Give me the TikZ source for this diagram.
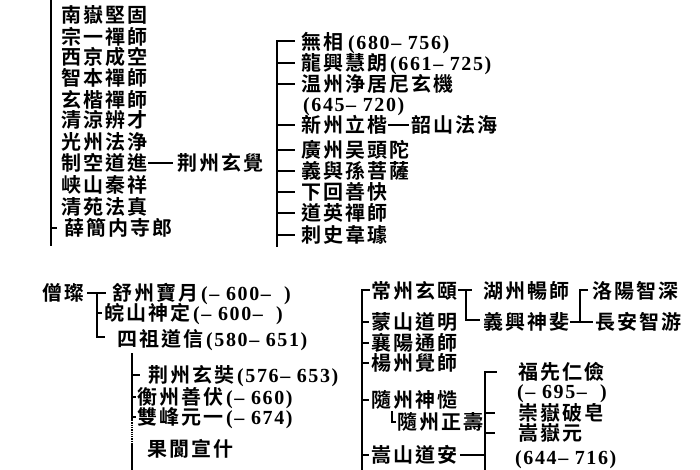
\documentclass[tikz,border=0pt]{standalone}
\usepackage{fontspec}
\newfontfamily\cjk{Noto Sans CJK TC Bold}[LetterSpace=10]
\newfontfamily\yrf{Liberation Serif Bold}[LetterSpace=8]
\newcommand\yrs[1]{\vphantom{漢}\smash{\raisebox{0.5pt}{\yrf\fontsize{20}{20}\selectfont #1}}}
\tikzset{
  tx/.style={anchor=west,inner sep=0pt,font=\cjk\fontsize{20}{20}\selectfont},
  ln/.style={line width=1.3pt,line cap=butt}
}
\begin{document}
\begin{tikzpicture}[x=1pt,y=-1pt]
\useasboundingbox[fill=white] (0,0) rectangle (700,470);
% ---------- top left column ----------
\node[tx] (a1) at (61,15) {南嶽堅固};
\node[tx] (a2) at (61,37) {宗一禪師};
\node[tx] (a3) at (61,57) {西京成空};
\node[tx] (a4) at (61,78) {智本禪師};
\node[tx] (a5) at (61,100) {玄楷禪師};
\node[tx] (a6) at (61,120) {清涼辨才};
\node[tx] (a7) at (61,142) {光州法浄};
\node[tx] (a8) at (61,163) {制空道進};
\node[tx] (a9) at (61,185) {峡山秦祥};
\node[tx] (a10) at (61,207) {清苑法真};
\node[tx] (a11) at (64,228) {薛簡内寺郎};
\node[tx] (b) at (177,163) {荆州玄覺};
\coordinate (LT) at (51,0);
\coordinate (LB) at (51,246);
\draw[ln] (LT) -- (LB);
\draw[ln] (LT |- a11) -- ++(6,0);
\draw[ln] ([xshift=1pt]a8.east) -- ([xshift=-4pt]b.west);
% ---------- top right column ----------
\node[tx] (c1) at (301,42) {無相\hspace{5pt}\yrs{(680–\ 756)}};
\node[tx] (c2) at (301,63) {龍興慧朗\hspace{3pt}\yrs{(661–\ 725)}};
\node[tx] (c3) at (301,84) {温州浄居尼玄機};
\node[tx] (c3b) at (303,104) {\yrs{(645–\ 720)}};
\node[tx] (c4a) at (301,125) {新州立楷};
\node[tx] (c4b) at (411,125) {韶山法海};
\node[tx] (c5) at (301,150) {廣州吴頭陀};
\node[tx] (c6) at (301,171) {義與孫菩薩};
\node[tx] (c7) at (301,192) {下回善快};
\node[tx] (c8) at (301,213) {道英禪師};
\node[tx] (c9) at (301,235) {刺史韋璩};
\coordinate (RT) at (277,41);
\coordinate (RB) at (277,247);
\draw[ln] (RB) -- (RT) -- ++(18,0);
\foreach \n in {c2,c3,c4a,c5,c6,c7,c8,c9}
  \draw[ln] (RT |- \n) -- ++(18,0);
\draw[ln] ([xshift=1pt]c4a.east) -- ([xshift=-2pt]c4b.west);
% ---------- bottom left ----------
\node[tx] (d0) at (42,293) {僧璨};
\node[tx] (d1) at (112,293) {舒州寶月\hspace{3pt}\yrs{(–\ 600–\ \ )}};
\node[tx] (d2) at (104,313) {皖山神定\hspace{3pt}\yrs{(–\ 600–\ \ )}};
\node[tx] (d3) at (117,339) {四祖道信\hspace{3pt}\yrs{(580–\ 651)}};
\coordinate (BT) at (97,293);
\coordinate (BB) at (97,337);
\draw[ln] ([xshift=3pt]d0.east) -- (BT) -- ++(9,0);
\draw[ln] (BT) -- (BB) -- ++(8,0);
\draw[ln] (BT |- d2) -- ++(5,0);
\node[tx] (e1) at (148,375) {荆州玄奘\hspace{3pt}\yrs{(576–\ 653)}};
\node[tx] (e2) at (137,397) {衡州善伏\hspace{3pt}\yrs{(–\ 660)}};
\node[tx] (e3) at (137,417) {雙峰元一\hspace{3pt}\yrs{(–\ 674)}};
\node[tx] (e4) at (147,449) {果閬宣什};
\coordinate (ET) at (132,353);
\coordinate (ED1) at (132,420);
\coordinate (ED2) at (132,443);
\coordinate (EB) at (132,475);
\draw[ln] (ET) -- (ED1);
\draw[ln,densely dotted] (ED1) -- (ED2);
\draw[ln] (ED2) -- (EB);
\draw[ln] (ET |- e1) -- ++(8,0);
\draw[ln] (ET |- e2) -- ++(4,0);
\draw[ln] (ET |- e3) -- ++(4,0);
% ---------- bottom right ----------
\node[tx] (f1) at (371,291) {常州玄頤};
\node[tx] (f2) at (371,322) {蒙山道明};
\node[tx] (f3) at (371,343) {襄陽通師};
\node[tx] (f4) at (371,363) {楊州覺師};
\node[tx] (f5) at (371,400) {隨州神慥};
\node[tx] (f6) at (397,422) {隨州正壽};
\node[tx] (f7) at (371,455) {嵩山道安};
\coordinate (FT) at (362,290);
\coordinate (FB) at (362,475);
\draw[ln] (FB) -- (FT) -- ++(8,0);
\foreach \n in {f2,f3,f4,f5,f7}
  \draw[ln] (FT |- \n) -- ++(7,0);
\draw[ln] ([xshift=-5pt,yshift=11pt]f6.west) |- ([xshift=-1pt]f6.west);
\node[tx] (g1) at (483,291) {湖州暢師};
\node[tx] (g2) at (483,322) {義興神斐};
\coordinate (GT) at (466,290);
\coordinate (GB) at (466,320);
\draw[ln] ([xshift=1pt]f1.east |- GT) -- ++(14,0);
\draw[ln] (GT) -- (GB) -- ([xshift=-3pt]g2.west |- GB);
\node[tx] (h1) at (592,291) {洛陽智深};
\node[tx] (h2) at (595,322) {長安智游};
\coordinate (HT) at (580,290);
\coordinate (HB) at (580,322);
\draw[ln] (HB) -- (HT) -- ++(8,0);
\draw[ln] ([xshift=1pt]g2.east) -- ([xshift=-2pt]h2.west);
\node[tx] (i1) at (518,372) {福先仁儉};
\node[tx] (i1b) at (517,391) {\yrs{(–\ 695–\ \ )}};
\node[tx] (i2) at (518,413) {崇嶽破皂};
\node[tx] (i3) at (518,433) {嵩嶽元};
\node[tx] (i3b) at (515,457) {\yrs{(644–\ 716)}};
\coordinate (IT) at (485,372);
\coordinate (IB) at (485,475);
\draw[ln] (IB) -- (IT) -- ++(12,0);
\draw[ln] (IT |- i2) -- ++(10,0);
\draw[ln] (IT |- i3) -- ++(10,0);
\draw[ln] ([xshift=3pt]f7.east) -- (IT |- f7);
\end{tikzpicture}
\end{document}
